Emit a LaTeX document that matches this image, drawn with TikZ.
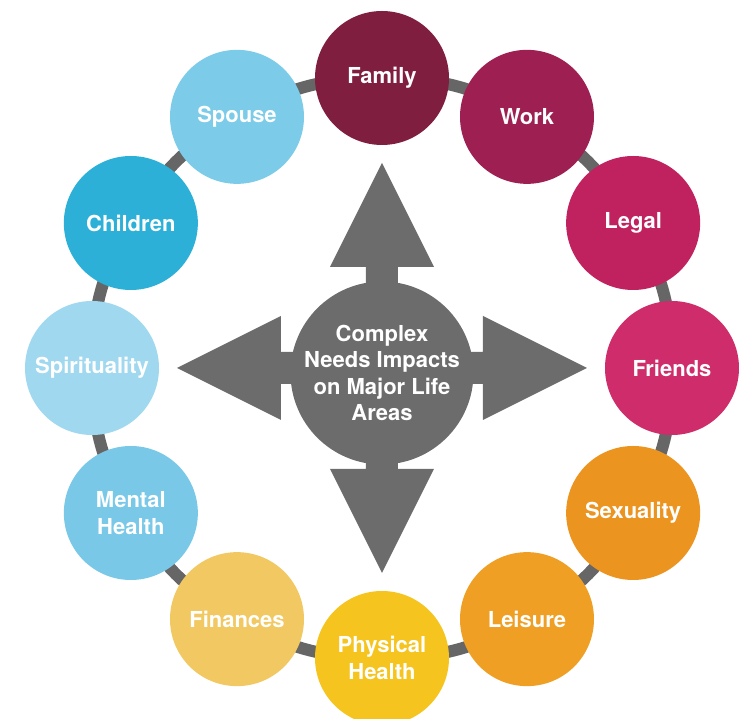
\documentclass[tikz,border=0pt]{standalone}
\usepackage{fontspec}
\setmainfont{TeX Gyre Heros}
\usetikzlibrary{backgrounds}

\definecolor{hubgray}{RGB}{108,108,108}
\definecolor{ringgray}{RGB}{102,102,102}
\definecolor{cfamily}{RGB}{128,30,64}
\definecolor{cwork}{RGB}{158,31,82}
\definecolor{clegal}{RGB}{192,34,96}
\definecolor{cfriends}{RGB}{206,44,106}
\definecolor{csexuality}{RGB}{236,148,32}
\definecolor{cleisure}{RGB}{239,160,36}
\definecolor{cphysical}{RGB}{246,196,30}
\definecolor{cfinances}{RGB}{242,200,98}
\definecolor{cmental}{RGB}{122,200,232}
\definecolor{cspirit}{RGB}{160,216,240}
\definecolor{cchildren}{RGB}{44,176,216}
\definecolor{cspouse}{RGB}{124,203,232}

\begin{document}
\begin{tikzpicture}[x=1pt,y=1pt]

      \useasboundingbox (-382,-351) rectangle (358,368);

      \begin{scope}[every node/.style={circle,minimum size=134pt,inner sep=0pt,text=white,
          align=center,font=\bfseries\fontsize{22}{27}\selectfont}]
        \node[fill=cfamily]    (family)   at (90:290)   {Family};
        \node[fill=cwork]      (work)     at (60:290)   {Work};
        \node[fill=clegal]     (legal)    at (30:290)   {Legal};
        \node[fill=cfriends]   (friends)  at (0:290)    {Friends};
        \node[fill=csexuality] (sexual)   at (-30:290)  {Sexuality};
        \node[fill=cleisure]   (leisure)  at (-60:290)  {Leisure};
        \node[fill=cphysical]  (physical) at (-90:290)  {Physical\\Health};
        \node[fill=cfinances]  (finances) at (-120:290) {Finances};
        \node[fill=cmental]    (mental)   at (-150:290) {Mental\\Health};
        \node[fill=cspirit]    (spirit)   at (180:290)  {Spirituality};
        \node[fill=cchildren]  (children) at (150:290)  {Children};
        \node[fill=cspouse]    (spouse)   at (120:290)  {Spouse};
      \end{scope}

      \begin{scope}[on background layer,every path/.style={draw=ringgray,line width=12pt}]
        \foreach \a/\b in {family/work,work/legal,legal/friends,friends/sexual,
            sexual/leisure,leisure/physical,physical/finances,finances/mental,
            mental/spirit,spirit/children,children/spouse,spouse/family}
          \path (\a.center) edge[bend left=15] (\b.center);
      \end{scope}

      \foreach \r in {0,90,180,270}
        \fill[hubgray,rotate=\r] (0,-16) -- (101,-16) -- (101,-52) -- (205,0)
          -- (101,52) -- (101,16) -- (0,16) -- cycle;

      \node[circle,fill=hubgray,minimum size=170pt,inner sep=0pt,text=white,align=center,
        font=\bfseries\fontsize{22}{26.5}\selectfont] (hub) at (0,-5)
        {Complex\\Needs Impacts\\on Major Life\\Areas};

    \end{tikzpicture}
\end{document}
